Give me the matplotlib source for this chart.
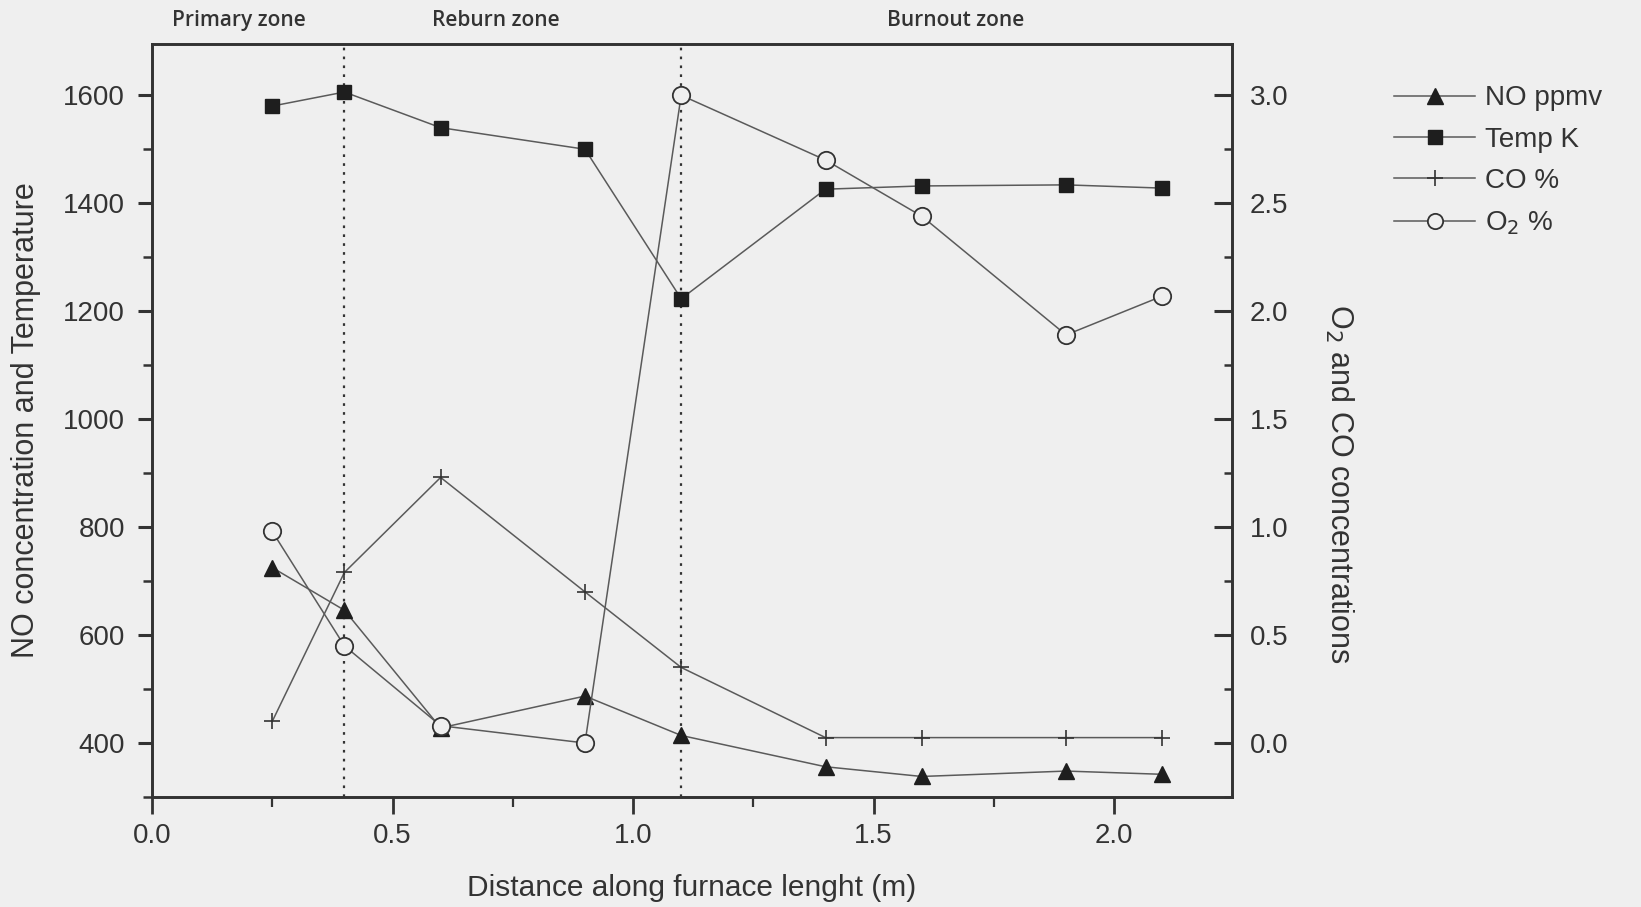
import matplotlib
matplotlib.use("Agg")
import matplotlib.pyplot as plt
from matplotlib.lines import Line2D
from matplotlib.ticker import MultipleLocator

# Sampling positions along the furnace (m)
distance = [0.25, 0.4, 0.6, 0.9, 1.1, 1.4, 1.6, 1.9, 2.1]

# Left axis series
no_ppmv = [725, 646, 428, 487, 414, 356, 338, 348, 342]
temp_k = [1580, 1606, 1540, 1500, 1223, 1426, 1432, 1434, 1428]

# Right axis series (%)
co_pct = [0.10, 0.79, 1.23, 0.70, 0.35, 0.025, 0.025, 0.025, 0.025]
o2_pct = [0.98, 0.45, 0.08, 0.0, 3.0, 2.70, 2.44, 1.89, 2.07]

# Zone boundaries and labels
zone_bounds = [0.4, 1.1]
zone_labels = ["Primary zone", "Reburn zone", "Burnout zone"]
zone_label_x = [0.1456, 0.302, 0.5824]

x_ticks = [0.0, 0.5, 1.0, 1.5, 2.0]
left_ticks = [400, 600, 800, 1000, 1200, 1400, 1600]
right_ticks = [0.0, 0.5, 1.0, 1.5, 2.0, 2.5, 3.0]

BG = "#efefef"
INK = "#333333"
LINE = "#5a5a5a"
MK = "#1e1e1e"

plt.rcParams["font.family"] = ["Liberation Sans", "DejaVu Sans"]

fig = plt.figure(figsize=(16.41, 9.07), dpi=100, facecolor=BG)
ax = fig.add_axes([0.0926, 0.1213, 0.6582, 0.8302])
ax.set_facecolor(BG)
ax2 = ax.twinx()

lw = 1.1
ax.plot(distance, temp_k, color=LINE, lw=lw, marker="s", ms=9.5,
        mfc=MK, mec=MK, zorder=3)
ax.plot(distance, no_ppmv, color=LINE, lw=lw, marker="^", ms=12,
        mfc=MK, mec=MK, zorder=3)
ax2.plot(distance, co_pct, color=LINE, lw=lw, marker="+", ms=12,
         mew=1.2, mec=INK, zorder=3)
ax2.plot(distance, o2_pct, color=LINE, lw=lw, marker="o", ms=12.5,
         mfc=BG, mec=INK, mew=1.3, zorder=4)

for xb in zone_bounds:
    ax.axvline(xb, color=INK, lw=1.6, ls=(0, (1.2, 2.8)), zorder=2)

ax.set_xlim(0.0, 2.245)
ax.set_ylim(300, 1695)
ax2.set_ylim(-0.25, 3.2375)

ax.set_xticks(x_ticks)
ax.set_xticklabels([f"{v:.1f}" for v in x_ticks])
ax.xaxis.set_minor_locator(MultipleLocator(0.25))
ax.set_yticks(left_ticks)
ax.yaxis.set_minor_locator(MultipleLocator(100))
ax2.set_yticks(right_ticks)
ax2.set_yticklabels([f"{v:.1f}" for v in right_ticks])
ax2.yaxis.set_minor_locator(MultipleLocator(0.25))

ax.tick_params(axis="x", which="major", length=12, width=2, colors=INK,
               labelsize=20, direction="out", pad=7)
ax.tick_params(axis="x", which="minor", length=7, width=1.6, colors=INK,
               direction="out")
ax.tick_params(axis="y", which="major", length=10, width=2.2, colors=INK,
               labelsize=20, direction="out", pad=9.5)
ax.tick_params(axis="y", which="minor", length=6.5, width=1.8, colors=INK,
               direction="out")
ax2.tick_params(axis="y", which="major", length=13, width=2.2, colors=INK,
                labelsize=20, direction="in", pad=13)
ax2.tick_params(axis="y", which="minor", length=6, width=1.8, colors=INK,
                direction="in")

for a in (ax, ax2):
    for sp in a.spines.values():
        sp.set_color(INK)
        sp.set_linewidth(1.9)

ax.set_xlabel("Distance along furnace lenght (m)", fontsize=21.5, color=INK,
              labelpad=18)
ax.set_ylabel("NO concentration and Temperature", fontsize=22, color=INK,
              va="center")
ax.yaxis.set_label_coords(-0.117, 0.5)
ax2.set_ylabel("O$_2$ and CO concentrations", fontsize=22, color=INK,
               rotation=270, va="center")
ax2.yaxis.set_label_coords(1.099, 0.416)

for lbl, xf in zip(zone_labels, zone_label_x):
    fig.text(xf, 0.977, lbl, fontsize=15, color=INK, ha="center",
             va="center", family=["Open Sans", "DejaVu Sans"],
             fontweight="semibold")

handles = [
    Line2D([], [], color=LINE, lw=lw, marker="^", ms=12, mfc=MK, mec=MK),
    Line2D([], [], color=LINE, lw=lw, marker="s", ms=10, mfc=MK, mec=MK),
    Line2D([], [], color=LINE, lw=lw, marker="+", ms=12, mew=1.2, mec=INK),
    Line2D([], [], color=LINE, lw=lw, marker="o", ms=11, mfc=BG, mec=INK,
           mew=1.3),
]
labels = ["NO ppmv", "Temp K", "CO %", "O$_2$ %"]
leg = fig.legend(handles, labels, loc="upper left",
                 bbox_to_anchor=(0.843, 0.918), frameon=False, fontsize=20,
                 handlelength=2.9, handletextpad=0.35, labelspacing=0.55,
                 borderaxespad=0)
for t in leg.get_texts():
    t.set_color(INK)

fig.savefig("out.png", dpi=100, facecolor=BG)
